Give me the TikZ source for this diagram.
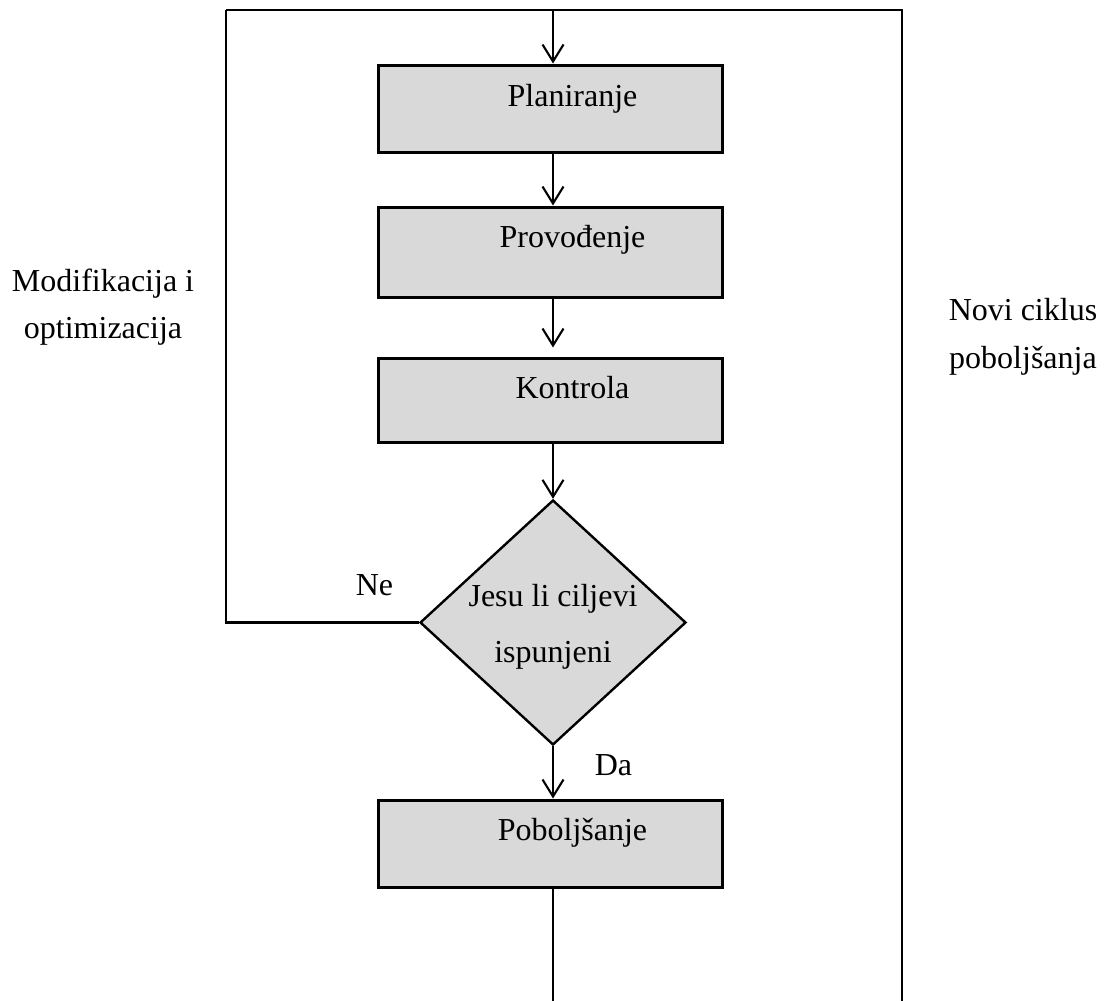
\documentclass[tikz,border=0pt]{standalone}
\usepackage{fontspec}
\setmainfont{Liberation Serif}
\usetikzlibrary{arrows.meta,shapes.geometric}
\definecolor{boxgray}{HTML}{D9D9D9}
\begin{document}
\begin{tikzpicture}[x=1pt,y=-1pt,
  txt/.style={font=\fontsize{32}{38}\selectfont,inner sep=0pt,anchor=base},
  stepbox/.style={draw=black,line width=3pt,fill=boxgray,minimum width=344pt,
    minimum height=#1,inner sep=0pt},
  dia/.style={draw=black,line width=2.4pt,fill=boxgray,shape=diamond,
    minimum width=266pt,minimum height=245pt,inner sep=0pt},
  ln/.style={draw=black,line width=2.1pt},
  arr/.style={ln,-{Straight Barb[length=17pt,width=21pt,line width=2.1pt]}}]
\useasboundingbox (0,0) rectangle (1104,1001);
\fill[white] (0,0) rectangle (1104,1001);

\coordinate (topL) at (226,10);
\coordinate (topC) at (553,10);
\coordinate (topR) at (902,10);
\coordinate (botR) at (902,1001);
\coordinate (botC) at (553,1001);
\coordinate (neL) at (226,622.5);

\node[stepbox=87pt] (p1) at (550,108.5) {};
\node[stepbox=90pt] (p2) at (550,252) {};
\node[stepbox=84pt] (p3) at (550,400) {};
\node[dia] (d) at (553,622.5) {};
\node[stepbox=87pt] (p4) at (550,843.5) {};

\node[txt] (p1t) at (572.5,106) {Planiranje};
\node[txt] (p2t) at (572.5,247) {Provođenje};
\node[txt] (p3t) at (572.5,398) {Kontrola};
\node[txt] (p4t) at (572.5,840) {Poboljšanje};
\node[txt] (d1) at (553,606.7) {Jesu li ciljevi};
\node[txt] (d2) at (553,662.7) {ispunjeni};

\draw[ln] (topL) -- (topR) -- (botR);
\draw[arr] (topC) -- (topC |- p1.north);
\draw[arr] (p1.south -| topC) -- (topC |- p2.north);
\draw[arr,shorten >=9pt] (p2.south -| topC) -- (topC |- p3.north);
\draw[arr] (p3.south -| topC) -- (d.north);
\draw[arr] (d.south) -- (topC |- p4.north);
\draw[ln] (p4.south -| topC) -- (botC);
\draw[ln] (d.west) -- (neL) -- (topL);

\node[txt] (ne) at (374.5,595) {Ne};
\node[txt] (da) at (613.5,775) {Da};
\node[txt] (m1) at (103,291) {Modifikacija i};
\node[txt] (m2) at (103,338) {optimizacija};
\node[txt] (n1) at (1023,320) {Novi ciklus};
\node[txt] (n2) at (1023,368) {poboljšanja};
\end{tikzpicture}
\end{document}
